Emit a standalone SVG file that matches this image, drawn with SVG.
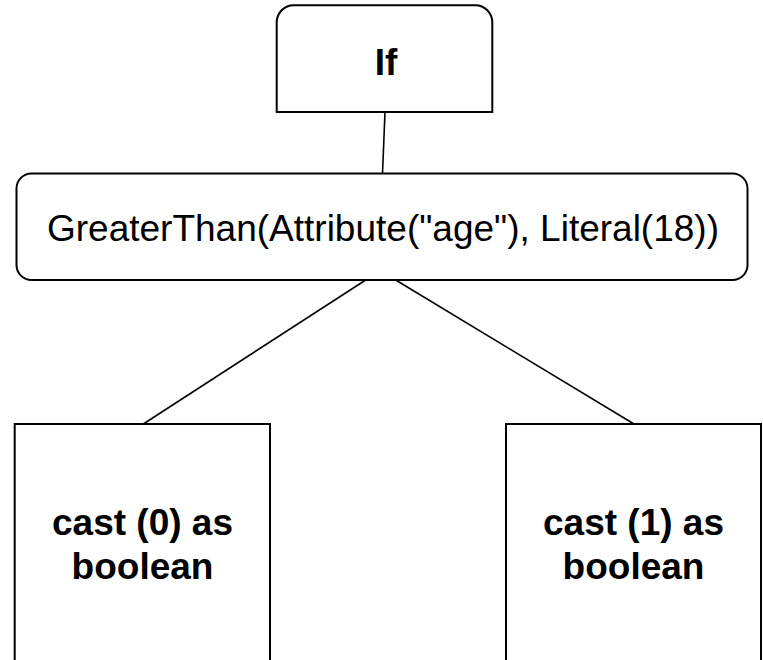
<svg xmlns="http://www.w3.org/2000/svg" width="763" height="660" viewBox="0 0 763 660">
  <style>
    .box { fill: #ffffff; stroke: #000000; stroke-width: 2; }
    .edge { fill: none; stroke: #000000; stroke-width: 1.6; }
    .lbl { font-family: "Liberation Sans", Arial, sans-serif; font-size: 37px; fill: #000000; text-anchor: middle; }
    .bold { font-weight: bold; }
  </style>
  <rect width="763" height="660" fill="#ffffff"/>

  <!-- tree edges -->
  <g id="connectors">
    <line class="edge" x1="385" y1="112" x2="382.5" y2="173.5"/>
    <line class="edge" x1="365.7" y1="280" x2="143.3" y2="424"/>
    <line class="edge" x1="395.7" y1="280" x2="634" y2="424"/>
  </g>

  <!-- root: rounded top, square bottom -->
  <g id="node-if">
    <path class="box" d="M276.7,112 V22.3 A17,17 0 0 1 293.7,5.3 H475.3 A17,17 0 0 1 492.3,22.3 V112 Z"/>
    <text class="lbl bold" x="386" y="75" font-size="36">If</text>
  </g>

  <g id="node-condition">
    <rect class="box" x="16.5" y="173.5" width="731" height="106.5" rx="15" ry="15"/>
    <text class="lbl" x="383" y="240.5">GreaterThan(Attribute("age"), Literal(18))</text>
  </g>

  <g id="node-false">
    <rect class="box" x="14.7" y="424" width="255.3" height="250"/>
    <text class="lbl bold" x="142.5" y="535">cast (0) as</text>
    <text class="lbl bold" x="142.5" y="578.5">boolean</text>
  </g>

  <g id="node-true">
    <rect class="box" x="506" y="424" width="255" height="250"/>
    <text class="lbl bold" x="633.5" y="535">cast (1) as</text>
    <text class="lbl bold" x="633.5" y="578.5">boolean</text>
  </g>
</svg>
